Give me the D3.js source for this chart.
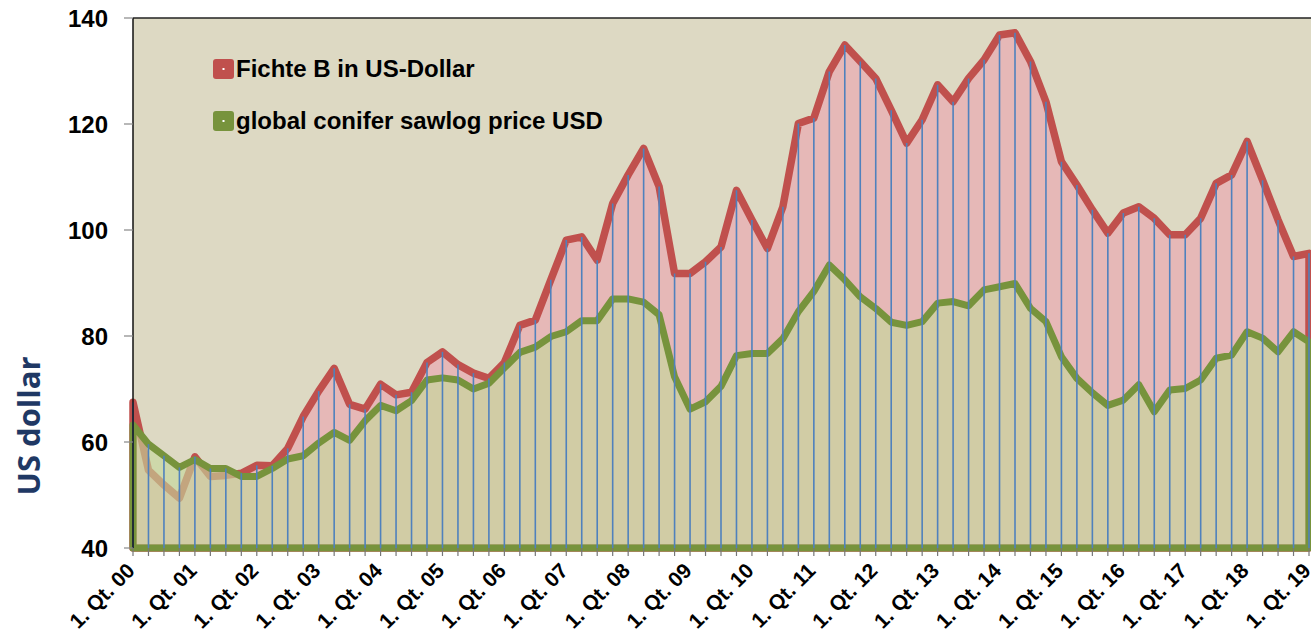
<!DOCTYPE html>
<html>
<head>
<meta charset="utf-8">
<script src="https://cdn.jsdelivr.net/npm/d3@7"></script>
<style>
  body { margin: 0; background: #fff; }
  svg { display: block; }
</style>
</head>
<body>
<div id="chart"></div>
<script>
// years shown on the axis, one tick label per first quarter
var years = ["00","01","02","03","04","05","06","07","08","09","10","11","12","13","14","15","16","17","18","19"];
var quarters = ["1","2","3","4"];

// Fichte B in US-Dollar, quarterly 1. Qt. 00 .. 1. Qt. 19
var fichteUSD = [67.5, 54.7, 51.9, 49.4, 57.2, 53.5, 53.7, 54.1, 55.6, 55.5,
                 58.8, 64.8, 69.6, 73.9, 67.1, 66.2, 70.9, 68.9, 69.4, 75.0,
                 77.0, 74.6, 73.0, 72.0, 75.0, 82.0, 83.0, 90.6, 98.1, 98.7,
                 94.3, 105.0, 110.4, 115.4, 108.2, 91.8, 91.8, 94.0, 96.8, 107.5,
                 101.9, 96.5, 104.4, 120.1, 121.1, 129.9, 134.9, 131.8, 128.6, 122.6,
                 116.4, 120.8, 127.4, 124.2, 128.6, 132.1, 136.8, 137.2, 131.8, 124.2,
                 112.9, 108.5, 103.8, 99.4, 103.2, 104.4, 102.2, 99.1, 99.1, 102.2,
                 108.8, 110.4, 116.7, 109.4, 101.9, 95.0, 95.6];

// global conifer sawlog price USD
var sawlogUSD = [63.2, 59.6, 57.4, 55.2, 56.7, 55.0, 55.0, 53.5, 53.5, 55.0,
                 56.8, 57.4, 59.8, 61.8, 60.3, 64.0, 66.9, 65.9, 67.8, 71.7,
                 72.1, 71.7, 70.0, 71.1, 74.0, 76.9, 77.9, 79.9, 80.8, 82.9,
                 82.9, 87.0, 87.0, 86.4, 84.0, 72.3, 66.2, 67.6, 70.5, 76.3,
                 76.7, 76.7, 79.5, 84.6, 88.4, 93.4, 90.6, 87.4, 85.2, 82.6,
                 82.0, 82.7, 86.2, 86.5, 85.7, 88.7, 89.3, 89.9, 85.2, 82.7,
                 76.1, 72.0, 69.3, 66.9, 67.9, 70.8, 65.7, 69.8, 70.1, 71.7,
                 75.8, 76.4, 80.8, 79.6, 77.0, 80.8, 78.9];

var yTicks = [40, 60, 80, 100, 120, 140];
var seriesNames = ["Fichte B in US-Dollar", "global conifer sawlog price USD"];

// category list: "1. Qt. 00", "2. Qt. 00", ... up to "1. Qt. 19"
var categories = [];
years.forEach(function(y) {
    quarters.forEach(function(q) { categories.push(q + ". Qt. " + y); });
});
categories = categories.slice(0, fichteUSD.length);

var width = 1311, height = 633,
    plotLeft = 133, plotTop = 18, plotBottom = 548, plotRight = 1309;

var svg = d3.select("#chart").append("svg")
    .attr("width", width)
    .attr("height", height);

var x = d3.scaleLinear().domain([0, categories.length - 1]).range([plotLeft, plotRight]);
var y = d3.scaleLinear().domain([40, 140]).range([plotBottom, plotTop]);

// plot background
svg.append("rect")
    .attr("x", plotLeft).attr("y", plotTop)
    .attr("width", width - plotLeft).attr("height", plotBottom - plotTop)
    .attr("fill", "#ddd9c3");

var area = d3.area()
    .x(function(d, i) { return x(i); })
    .y0(y(40))
    .y1(function(d) { return y(d); });

// red series area with its outline
svg.append("path")
    .datum(fichteUSD)
    .attr("d", function(d) { return area(d) + "Z"; })
    .attr("fill", "#e6b8b7")
    .attr("stroke", "#c0504d")
    .attr("stroke-width", 7.5)
    .attr("stroke-linejoin", "round");

// green series, see-through fill
svg.append("path")
    .datum(sawlogUSD)
    .attr("d", function(d) { return area(d) + "Z"; })
    .attr("fill", "#c4d79b")
    .attr("fill-opacity", 0.63)
    .attr("stroke", "#77933c")
    .attr("stroke-width", 7)
    .attr("stroke-linejoin", "round");

// drop lines
svg.append("g").selectAll("line")
    .data(categories)
    .enter().append("line")
    .attr("x1", function(d, i) { return x(i); })
    .attr("x2", function(d, i) { return x(i); })
    .attr("y1", function(d, i) { return y(Math.max(fichteUSD[i], sawlogUSD[i])); })
    .attr("y2", y(40))
    .attr("stroke", "#4f81bd")
    .attr("stroke-width", 1.6);

// frame: top and left
svg.append("line")
    .attr("x1", plotLeft).attr("x2", width)
    .attr("y1", plotTop).attr("y2", plotTop)
    .attr("stroke", "#222").attr("stroke-width", 1.5);
svg.append("line")
    .attr("x1", plotLeft).attr("x2", plotLeft)
    .attr("y1", plotTop).attr("y2", plotBottom)
    .attr("stroke", "#111").attr("stroke-width", 1.5);

/* y axis */
var yAxis = svg.append("g");
yAxis.selectAll("line")
    .data(yTicks)
    .enter().append("line")
    .attr("x1", plotLeft - 9).attr("x2", plotLeft)
    .attr("y1", function(d) { return y(d); })
    .attr("y2", function(d) { return y(d); })
    .attr("stroke", "#888").attr("stroke-width", 1.2);
yAxis.selectAll("text")
    .data(yTicks)
    .enter().append("text")
    .attr("x", 108)
    .attr("y", function(d) { return y(d); })
    .attr("dy", "0.36em")
    .attr("text-anchor", "end")
    .attr("font-family", "'Liberation Sans', Arial, sans-serif")
    .attr("font-weight", "bold")
    .attr("font-size", "24px")
    .attr("fill", "#000")
    .text(function(d) { return d; });

svg.append("text")
    .attr("transform", "translate(40,426) rotate(-90)")
    .attr("text-anchor", "middle")
    .attr("font-family", "'Open Sans', 'Noto Sans', sans-serif")
    .attr("font-weight", "bold")
    .attr("font-size", "31px")
    .attr("fill", "#1f3864")
    .text("US dollar");

/* x axis ticks and labels */
var xAxis = svg.append("g");
xAxis.selectAll("line")
    .data(categories)
    .enter().append("line")
    .attr("x1", function(d, i) { return x(i); })
    .attr("x2", function(d, i) { return x(i); })
    .attr("y1", plotBottom).attr("y2", plotBottom + 8)
    .attr("stroke", "#777").attr("stroke-width", 1.2);

var labelled = categories.map(function(d, i) { return { name: d, i: i }; })
    .filter(function(d) { return d.i % 4 === 0; });

xAxis.selectAll("text")
    .data(labelled)
    .enter().append("text")
    .attr("transform", function(d) { return "translate(" + (x(d.i) + 3) + "," + 572 + ") rotate(-45)"; })
    .attr("text-anchor", "end")
    .attr("font-family", "'Liberation Sans', Arial, sans-serif")
    .attr("font-weight", "bold")
    .attr("font-size", "21px")
    .attr("fill", "#000")
    .text(function(d) { return d.name; });

/* legend */
var legendColors = ["#c0504d", "#77933c"];
var legend = svg.append("g").selectAll("g")
    .data(seriesNames)
    .enter().append("g")
    .attr("transform", function(d, i) { return "translate(213," + (59 + i * 52) + ")"; });
legend.append("rect")
    .attr("width", 21).attr("height", 20)
    .attr("rx", 3)
    .attr("fill", function(d, i) { return legendColors[i]; });
legend.append("rect")
    .attr("x", 9.5).attr("y", 9).attr("width", 2).attr("height", 2)
    .attr("fill", "#fff");
legend.append("text")
    .attr("x", 23).attr("y", 18)
    .attr("font-family", "'Liberation Sans', Arial, sans-serif")
    .attr("font-weight", "bold")
    .attr("font-size", "24px")
    .attr("fill", "#000")
    .text(function(d) { return d; });
</script>
</body>
</html>
